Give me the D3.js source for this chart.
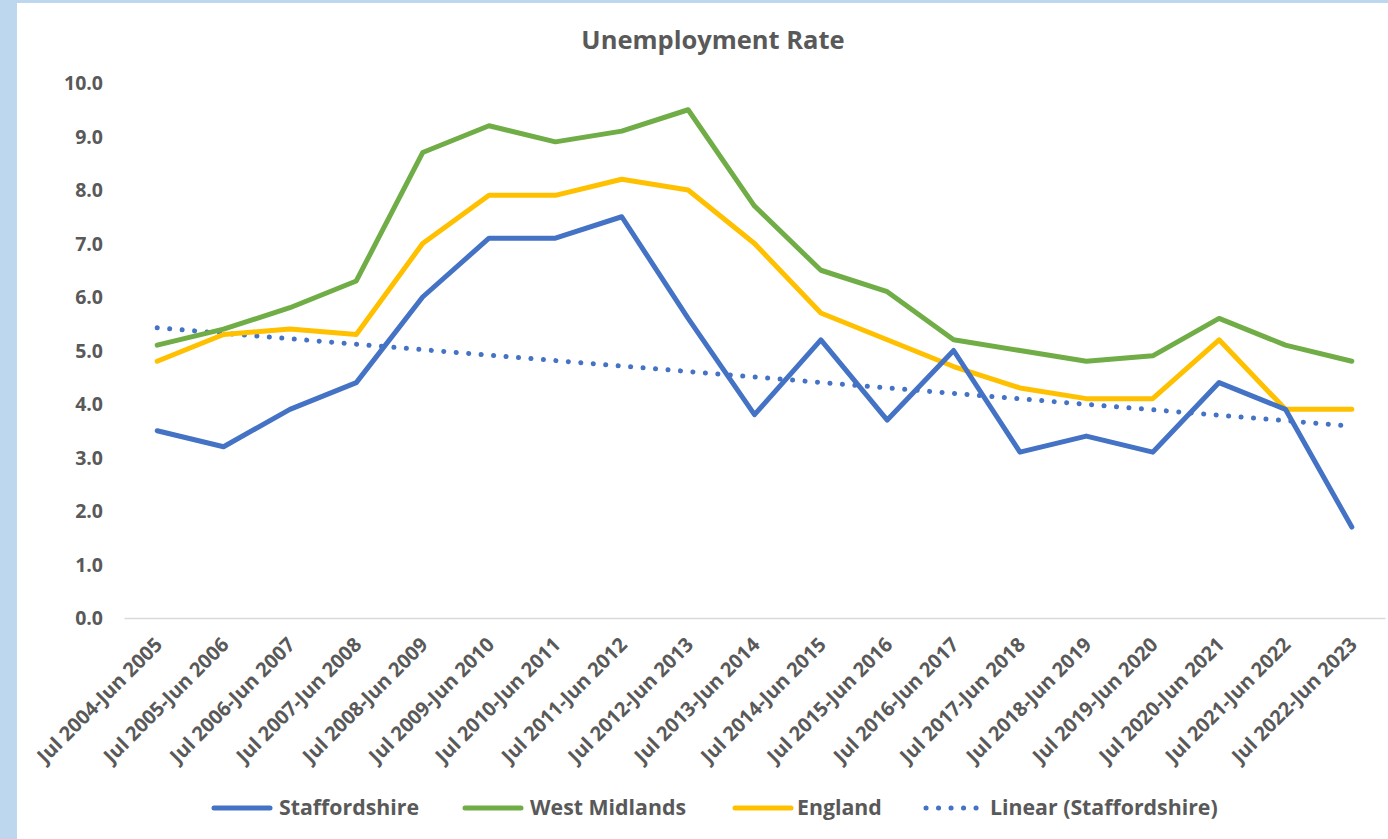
<!DOCTYPE html>
<html><head><meta charset="utf-8">
<script src="https://cdn.jsdelivr.net/npm/d3@7"></script>
<style>html,body{margin:0;padding:0;background:#BDD7EE;overflow:hidden}</style>
</head><body>
<svg id="c" width="1388" height="839"></svg>
<script>
const categories = ["Jul 2004-Jun 2005","Jul 2005-Jun 2006","Jul 2006-Jun 2007","Jul 2007-Jun 2008","Jul 2008-Jun 2009","Jul 2009-Jun 2010","Jul 2010-Jun 2011","Jul 2011-Jun 2012","Jul 2012-Jun 2013","Jul 2013-Jun 2014","Jul 2014-Jun 2015","Jul 2015-Jun 2016","Jul 2016-Jun 2017","Jul 2017-Jun 2018","Jul 2018-Jun 2019","Jul 2019-Jun 2020","Jul 2020-Jun 2021","Jul 2021-Jun 2022","Jul 2022-Jun 2023"];
const staffordshire = [3.5,3.2,3.9,4.4,6.0,7.1,7.1,7.5,5.6,3.8,5.2,3.7,5.0,3.1,3.4,3.1,4.4,3.9,1.7];
const westMidlands = [5.1,5.4,5.8,6.3,8.7,9.2,8.9,9.1,9.5,7.7,6.5,6.1,5.2,5.0,4.8,4.9,5.6,5.1,4.8];
const england = [4.8,5.3,5.4,5.3,7.0,7.9,7.9,8.2,8.0,7.0,5.7,5.2,4.7,4.3,4.1,4.1,5.2,3.9,3.9];
const yTicks = [0,1,2,3,4,5,6,7,8,9,10];
const seriesNames = ["Staffordshire","West Midlands","England","Linear (Staffordshire)"];

// Linear trendline (least squares fit of Staffordshire, as in the spreadsheet)
const n = staffordshire.length;
const mx = d3.mean(d3.range(n)), my = d3.mean(staffordshire);
const slope = d3.sum(d3.range(n), i => (i - mx) * (staffordshire[i] - my)) / d3.sum(d3.range(n), i => (i - mx) ** 2);
const trend = d3.range(n).map(i => my + slope * (i - mx));

const svg = d3.select("#c");
const font = "'Open Sans', sans-serif";
const textCol = "#595959";
svg.append("rect").attr("x",17).attr("y",3).attr("width",1371).attr("height",836).attr("fill","#fff");

const x = d3.scalePoint().domain(categories).range([124,1385]).padding(0.5);
const y = d3.scaleLinear().domain([0,10]).range([618,83]);

svg.append("text").attr("x",713).attr("y",49).attr("text-anchor","middle")
  .attr("font-family",font).attr("font-weight",700).attr("font-size",25.5).attr("fill",textCol)
  .text("Unemployment Rate");

// y axis labels
const yAxis = svg.append("g").attr("transform","translate(103,0)")
  .call(d3.axisLeft(y).tickValues(yTicks).tickFormat(d3.format(".1f")).tickSize(0).tickPadding(0));
yAxis.select(".domain").remove();
yAxis.selectAll("text").attr("font-family",font).attr("font-weight",700).attr("font-size",19.5).attr("fill",textCol).attr("dy","0.35em");

// x axis line
const xAxis = svg.append("g").attr("transform","translate(0,618)")
  .call(d3.axisBottom(x).tickSize(0).tickPadding(0));
xAxis.select(".domain").attr("stroke","#d9d9d9").attr("stroke-width",1.5);
xAxis.selectAll("text").attr("font-family",font).attr("font-weight",700).attr("font-size",20).attr("fill",textCol)
  .attr("text-anchor","end").attr("dy",0)
  .attr("transform","translate(6,28) rotate(-45)");

const line = d3.line().x((d,i) => x(categories[i])).y(d => y(d));
const series = [
  {v: westMidlands, c:"#70AD47"},
  {v: england, c:"#FFC000"},
  {v: staffordshire, c:"#4472C4"}
];
svg.append("path").datum(trend).attr("d",line).attr("fill","none").attr("stroke","#4472C4")
  .attr("stroke-width",5).attr("stroke-linecap","round").attr("stroke-dasharray","0.1 12.4");
series.forEach(s => {
  svg.append("path").datum(s.v).attr("d",line).attr("fill","none").attr("stroke",s.c)
    .attr("stroke-width",5).attr("stroke-linejoin","round").attr("stroke-linecap","round");
});

// legend
const legend = [
  {name:seriesNames[0], c:"#4472C4", x0:214, tx:279, dash:null},
  {name:seriesNames[1], c:"#70AD47", x0:465, tx:530, dash:null},
  {name:seriesNames[2], c:"#FFC000", x0:735, tx:797, dash:null},
  {name:seriesNames[3], c:"#4472C4", x0:926, tx:990, dash:"0.1 12.4"}
];
const lg = svg.append("g");
legend.forEach(l => {
  lg.append("line").attr("x1",l.x0).attr("x2",l.x0+56).attr("y1",808).attr("y2",808)
    .attr("stroke",l.c).attr("stroke-width",5).attr("stroke-linecap","round")
    .attr("stroke-dasharray",l.dash);
  lg.append("text").attr("x",l.tx).attr("y",808).attr("dy","0.35em")
    .attr("font-family",font).attr("font-weight",700).attr("font-size",21.3).attr("fill",textCol)
    .text(l.name);
});
</script>
</body></html>
